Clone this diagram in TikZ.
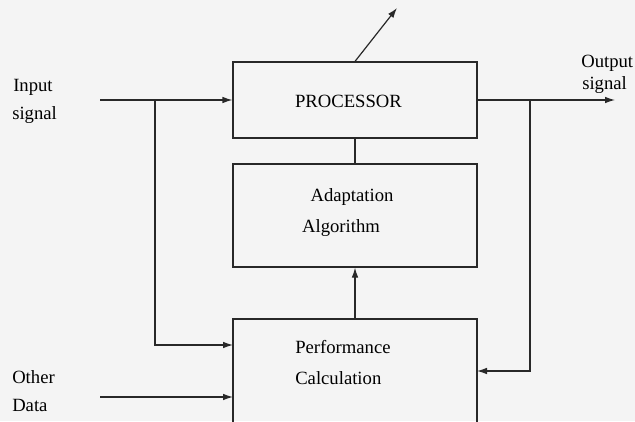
\documentclass[tikz,border=0pt]{standalone}
\usepackage{fontspec}
\setmainfont{Liberation Serif}
\usetikzlibrary{arrows.meta}
\definecolor{paper}{RGB}{244,244,244}
\definecolor{ink}{RGB}{40,40,40}
\tikzset{
  block/.style={draw=ink, line width=0.9pt, minimum width=183pt, inner sep=0pt},
  wire/.style={draw=ink, line width=0.9pt},
  sig/.style={wire, -{Latex[length=7.5pt,width=5pt]}},
  lbl/.style={font=\fontsize{14}{16}\selectfont, inner sep=0pt, text=black},
}
\begin{document}
\begin{tikzpicture}[x=0.75pt, y=-0.75pt]
    \useasboundingbox (0,0) rectangle (635,421);
    \fill[paper] (0,0) rectangle (635,421);

    % Blocks
    \node[block, minimum height=57pt] (proc) at (355,100) {};
    \node[block, minimum height=77.25pt] (adapt) at (355,215.5) {};
    \node[block, minimum height=90.75pt] (perf) at (355,379.5) {};

    % Texts in the blocks
    \node[lbl] (proctxt) at (348.5,101) {PROCESSOR};
    \node[lbl] (adapttxt1) at (352,197) {Adaptation};
    \node[lbl] (adapttxt2) at (341,228) {Algorithm};
    \node[lbl, anchor=west] (perftxt1) at (295,347) {Performance};
    \node[lbl, anchor=west] (perftxt2) at (295,378) {Calculation};

    % Outside labels
    \node[lbl, anchor=west] (inlbl1) at (13,87) {Input};
    \node[lbl, anchor=west] (inlbl2) at (12,115) {signal};
    \node[lbl, anchor=west] (outlbl1) at (581,63) {Output};
    \node[lbl, anchor=west] (outlbl2) at (582,85) {signal};
    \node[lbl, anchor=west] (othlbl1) at (12,377) {Other};
    \node[lbl, anchor=west] (othlbl2) at (12,405) {Data};

    % Points for the connectors
    \coordinate (inp) at (100,100);
    \coordinate (inbranch) at (155,100);
    \coordinate (perfin) at (233,345);
    \coordinate (oth) at (100,397);
    \coordinate (othin) at (233,397);
    \coordinate (outp) at (615,100);
    \coordinate (outbranch) at (530,100);
    \coordinate (perfback) at (477,371);
    \coordinate (adj) at (397,8);

    % Connectors
    \draw[sig] (inp) -- (proc.west);
    \draw[sig] (inbranch) |- (perfin);
    \draw[sig] (oth) -- (othin);
    \draw[sig] (proc.east) -- (outp);
    \draw[sig] (outbranch) |- (perfback);
    \draw[wire] (proc.south) -- (adapt.north);
    \draw[sig] (perf.north) -- (adapt.south);
    \draw[sig] (proc.north) -- (adj);
\end{tikzpicture}
\end{document}
